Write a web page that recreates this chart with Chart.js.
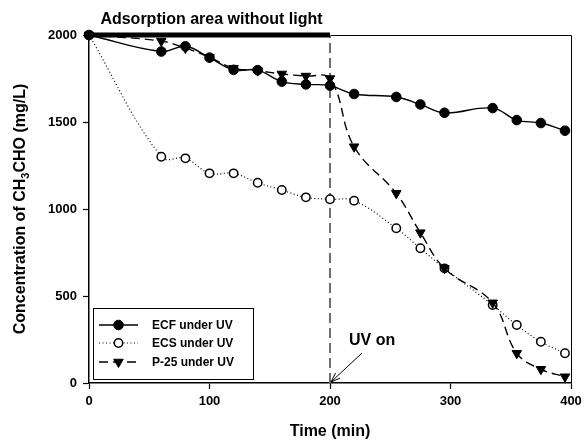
<!DOCTYPE html>
<html>
<head>
<meta charset="utf-8">
<script src="https://cdn.jsdelivr.net/npm/chart.js@4/dist/chart.umd.min.js"></script>
<style>
html,body{margin:0;padding:0;background:#fff;}
#c{display:block;}
</style>
</head>
<body>
<canvas id="c" width="584" height="442"></canvas>
<script>
// ---- data ----
const timeMin = [0, 60, 80, 100, 120, 140, 160, 180, 200, 220, 255, 275, 295, 335, 355, 375, 395];
const ecfUnderUV = [2000, 1905, 1935, 1870, 1800, 1798, 1732, 1716, 1709, 1661, 1644, 1601, 1553, 1580, 1511, 1494, 1450];
const ecsUnderUV = [2000, 1300, 1291, 1205, 1205, 1151, 1109, 1067, 1056, 1048, 889, 774, 659, 448, 333, 237, 171];
const p25UnderUV = [2000, 1965, 1925, 1872, 1809, 1795, 1776, 1764, 1750, 1358, 1090, 864, 659, 461, 171, 79, 36];
const seriesNames = ['ECF under UV', 'ECS under UV', 'P-25 under UV'];
const xTicks = [0, 100, 200, 300, 400];
const yTicks = [0, 500, 1000, 1500, 2000];
const darkPeriod = [0, 200];      // adsorption area without light
const uvOnTime = 200;
const xTitle = 'Time (min)';
const darkLabel = 'Adsorption area without light';
const uvLabel = 'UV on';

const FONT = "'Liberation Sans', Arial, sans-serif";
const pts = arr => timeMin.map((t, i) => ({x: t, y: arr[i]}));

const datasets = [
  {label: seriesNames[0], data: pts(ecfUnderUV), borderColor: '#000', backgroundColor: '#000',
   borderWidth: 1.4, pointStyle: 'circle', pointRadius: 4.8, pointBorderWidth: 1, tension: 0.4, order: 1, clip: false},
  {label: seriesNames[1], data: pts(ecsUnderUV), borderColor: '#000', backgroundColor: '#fff',
   borderWidth: 1.2, borderDash: [1, 2.5], pointStyle: 'circle', pointRadius: 4.2, pointBorderWidth: 1.5,
   pointBorderColor: '#000', pointBackgroundColor: '#fff', tension: 0.4, order: 3, clip: false},
  {label: seriesNames[2], data: pts(p25UnderUV), borderColor: '#000', backgroundColor: '#000',
   borderWidth: 1.4, borderDash: [9, 5], pointStyle: 'triangle', pointRotation: 180, pointRadius: 5.5,
   pointBorderWidth: 1, tension: 0.4, order: 2, clip: false},
  {label: 'uvline', data: [{x: uvOnTime, y: 0}, {x: uvOnTime, y: 2000}], borderColor: '#6e6e6e',
   borderWidth: 2, borderDash: [10, 5], pointRadius: 0, order: 5, clip: false},
  {label: 'darkbar', data: [{x: darkPeriod[0], y: 2000}, {x: darkPeriod[1], y: 2000}], borderColor: '#000',
   borderWidth: 5, pointRadius: 0, order: 4, clip: false}
];

const frame = {
  id: 'frame',
  beforeDatasetsDraw(chart) {
    const {ctx, chartArea: a} = chart;
    ctx.save();
    ctx.strokeStyle = '#000';
    ctx.lineWidth = 1;
    ctx.beginPath();
    ctx.moveTo(a.left, a.top + 0.5);
    ctx.lineTo(a.right + 0.5, a.top + 0.5);
    ctx.lineTo(a.right + 0.5, a.bottom);
    ctx.stroke();
    ctx.restore();
  },
  afterDraw(chart) {
    const {ctx, chartArea: a, scales} = chart;
    const xs = scales.x, ys = scales.y;
    ctx.save();
    ctx.fillStyle = '#000';
    // dark-period label
    ctx.font = `bold 16px ${FONT}`;
    ctx.textAlign = 'center';
    ctx.textBaseline = 'alphabetic';
    ctx.fillText(darkLabel, (xs.getPixelForValue(darkPeriod[0]) + xs.getPixelForValue(darkPeriod[1])) / 2 + 2, 24);
    // x title
    ctx.font = `bold 16px ${FONT}`;
    ctx.textBaseline = 'middle';
    ctx.fillText(xTitle, (a.left + a.right) / 2, 432);
    // y title with subscript
    ctx.save();
    ctx.translate(21, (a.top + a.bottom) / 2);
    ctx.rotate(-Math.PI / 2);
    const parts = [['Concentration of CH', 16, 0], ['3', 11, 5], ['CHO (mg/L)', 16, 0]];
    let total = 0;
    parts.forEach(p => { ctx.font = `bold ${p[1]}px ${FONT}`; total += ctx.measureText(p[0]).width; });
    let xx = -total / 2;
    ctx.textAlign = 'left';
    parts.forEach(p => {
      ctx.font = `bold ${p[1]}px ${FONT}`;
      ctx.fillText(p[0], xx, p[2]);
      xx += ctx.measureText(p[0]).width;
    });
    ctx.restore();
    // UV on arrow
    const tx = xs.getPixelForValue(uvOnTime), ty = ys.getPixelForValue(0);
    const sx = tx + 32, sy = ty - 30;
    ctx.strokeStyle = '#000';
    ctx.lineWidth = 1;
    ctx.beginPath();
    ctx.moveTo(sx, sy); ctx.lineTo(tx + 1, ty - 1);
    const ang = Math.atan2(sy - ty, sx - tx);
    ctx.moveTo(tx + 1 + 10 * Math.cos(ang - 0.35), ty - 1 + 10 * Math.sin(ang - 0.35));
    ctx.lineTo(tx + 1, ty - 1);
    ctx.lineTo(tx + 1 + 10 * Math.cos(ang + 0.35), ty - 1 + 10 * Math.sin(ang + 0.35));
    ctx.stroke();
    ctx.font = `bold 16px ${FONT}`;
    ctx.textAlign = 'left';
    ctx.textBaseline = 'middle';
    ctx.fillText(uvLabel, tx + 19, ty - 42);
    // legend
    const bx = 93, by = 308, bw = 160, bh = 71;
    ctx.lineWidth = 1;
    ctx.strokeRect(bx + 0.5, by + 0.5, bw, bh);
    const rows = [325, 343, 362];
    ctx.font = `bold 12px ${FONT}`;
    datasets.slice(0, 3).forEach((ds, i) => {
      const y = rows[i];
      ctx.save();
      ctx.strokeStyle = ds.borderColor;
      ctx.lineWidth = ds.borderWidth;
      ctx.setLineDash(ds.borderDash || []);
      ctx.beginPath(); ctx.moveTo(99, y); ctx.lineTo(138, y); ctx.stroke();
      ctx.setLineDash([]);
      const pOpts = {pointStyle: ds.pointStyle, radius: ds.pointRadius, rotation: ds.pointRotation || 0, borderWidth: ds.pointBorderWidth};
      ctx.fillStyle = ds.pointBackgroundColor || ds.backgroundColor;
      ctx.strokeStyle = ds.pointBorderColor || ds.borderColor;
      ctx.lineWidth = ds.pointBorderWidth;
      Chart.helpers.drawPoint(ctx, pOpts, 118.5, y);
      ctx.restore();
      ctx.fillStyle = '#000';
      ctx.textAlign = 'left';
      ctx.textBaseline = 'middle';
      ctx.fillText(ds.label, 152, y + 0.5);
    });
    ctx.restore();
  }
};

new Chart(document.getElementById('c'), {
  type: 'line',
  data: {datasets},
  plugins: [frame],
  options: {
    responsive: false,
    devicePixelRatio: 1,
    animation: false,
    layout: {padding: {top: 35, right: 13, left: 0, bottom: 0}},
    plugins: {legend: {display: false}, tooltip: {enabled: false}},
    scales: {
      x: {
        type: 'linear', min: 0, max: 400,
        afterBuildTicks: s => { s.ticks = xTicks.map(v => ({value: v})); },
        afterFit: s => { s.height = 59; s.paddingRight = 0; },
        ticks: {color: '#000', padding: 5, maxRotation: 0, callback: v => String(v), font: {family: FONT, weight: 'bold', size: 13}},
        grid: {display: true, drawOnChartArea: false, drawTicks: true, tickLength: 6, tickColor: '#000', tickWidth: 1.2},
        border: {display: true, color: '#000', width: 1.5}
      },
      y: {
        type: 'linear', min: 0, max: 2000,
        afterBuildTicks: s => { s.ticks = yTicks.map(v => ({value: v})); },
        afterFit: s => { s.width = 89; },
        ticks: {color: '#000', padding: 6, callback: v => String(v), font: {family: FONT, weight: 'bold', size: 13}},
        grid: {display: true, drawOnChartArea: false, drawTicks: true, tickLength: 6, tickColor: '#000', tickWidth: 1.2},
        border: {display: true, color: '#000', width: 1.5}
      }
    }
  }
});
</script>
</body>
</html>
